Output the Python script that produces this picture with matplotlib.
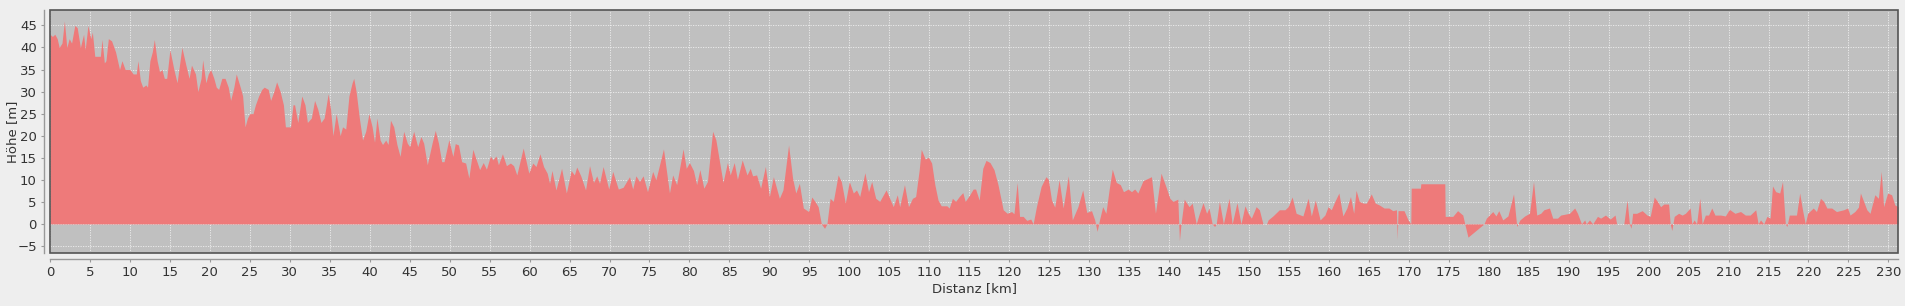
import numpy as np
import matplotlib
matplotlib.use("Agg")
import matplotlib.pyplot as plt
from matplotlib.patches import Rectangle

# Elevation profile, (distance km, height m)
# split in pieces so the lists stay readable

seg_0_44 = [
    (0, 43), (0.3, 42.5), (0.6, 43), (0.9, 42), (1.15, 40), (1.5, 41), (1.8, 46), (2.1, 40),
    (2.4, 42), (2.7, 41), (3.1, 45), (3.4, 44.5), (3.8, 40), (4.2, 43), (4.4, 39.5), (4.75, 45),
    (5.1, 42), (5.3, 43.5), (5.6, 38), (6.0, 38), (6.3, 38), (6.5, 41.8), (6.8, 36.5), (7.0, 37),
    (7.3, 42), (7.7, 41.5), (8.2, 39), (8.7, 35), (9.0, 37), (9.4, 35), (10.0, 35), (10.4, 34),
    (10.8, 34), (11.0, 37), (11.3, 32.5), (11.6, 31), (12.0, 31.5), (12.2, 31), (12.5, 37),
    (12.8, 39), (13.05, 41.8), (13.4, 37), (13.7, 34.5), (14.0, 35), (14.3, 33), (14.6, 33),
    (15.0, 39.5), (15.5, 35), (15.9, 32), (16.2, 36), (16.5, 40), (17.0, 36), (17.4, 33),
    (17.7, 36), (18.2, 34), (18.5, 30), (18.9, 33), (19.1, 37.2), (19.5, 32), (19.8, 34),
    (20.1, 35), (20.5, 33), (20.8, 31), (21.1, 30.5), (21.5, 33), (21.9, 33), (22.3, 31),
    (22.6, 28), (23.0, 31), (23.3, 34), (23.8, 31), (24.1, 29), (24.4, 22), (24.7, 24),
    (25.0, 25), (25.4, 25), (25.7, 27), (26.1, 29), (26.5, 30.5), (26.8, 31), (27.3, 30.5),
    (27.6, 28), (28.0, 30), (28.35, 32.2), (28.8, 30), (29.2, 27), (29.45, 22), (30.1, 22),
    (30.4, 27), (30.6, 27), (31.0, 23), (31.5, 29), (31.9, 27), (32.2, 23), (32.7, 24),
    (33.1, 28), (33.5, 26), (33.9, 23), (34.3, 24), (34.8, 29.5), (35.1, 26), (35.4, 20),
    (35.8, 25), (36.1, 22), (36.3, 20), (36.6, 22), (37.0, 21.5), (37.4, 29), (37.8, 32),
    (38.0, 33), (38.3, 30), (38.7, 24), (39.1, 19), (39.5, 21), (39.9, 25), (40.3, 22),
    (40.6, 18.5), (40.9, 24), (41.3, 19), (41.6, 18), (42.0, 19), (42.3, 18), (42.6, 23.5),
    (43.0, 22), (43.4, 18), (43.8, 15.3),
]

seg_44_94 = [
    (44.25, 21), (44.7, 18.3), (45.0, 17.5), (45.5, 21), (46.0, 17.5), (46.4, 19.8),
    (46.75, 18.3), (47.2, 13.4), (47.8, 18.3), (48.2, 21.2), (48.6, 18.3), (49.0, 14.1),
    (49.3, 14.1), (49.9, 19.1), (50.4, 15.3), (50.7, 18.2), (51.1, 17.9), (51.5, 14.1),
    (52.0, 13.8), (52.4, 10.4), (52.9, 16.9), (53.3, 14.7), (53.75, 12.3), (54.2, 13.9),
    (54.6, 12.4), (55.1, 15.4), (55.4, 14.5), (55.8, 15.4), (56.1, 13.4), (56.6, 15.9),
    (57.1, 13.2), (57.6, 13.8), (58.0, 13.2), (58.4, 11.1), (59.2, 17.2), (59.9, 11.5),
    (60.4, 13.8), (60.8, 13.0), (61.3, 15.9), (61.75, 13.0), (62.2, 11.5), (62.5, 9.2),
    (62.8, 12.1), (63.3, 7.7), (64.0, 12.6), (64.6, 7.0), (65.2, 12.1), (65.6, 11.1),
    (65.9, 12.9), (66.4, 10.9), (67.0, 7.7), (67.5, 13.2), (68.0, 9.4), (68.4, 10.9),
    (68.75, 9.2), (69.2, 13.0), (69.9, 7.9), (70.4, 11.9), (71.1, 7.9), (71.7, 8.3),
    (72.5, 10.7), (72.9, 7.9), (73.3, 10.9), (73.75, 9.6), (74.2, 10.9), (74.75, 7.3),
    (75.4, 11.9), (75.8, 10.0), (76.75, 17.0), (77.5, 7.0), (77.9, 11.1), (78.4, 8.9),
    (79.2, 17.0), (79.6, 12.6), (80.0, 13.9), (80.5, 12.1), (80.9, 8.9), (81.3, 12.3),
    (81.8, 8.1), (82.25, 9.6), (82.9, 21.0), (83.3, 19.1), (84.2, 9.4), (84.75, 13.9),
    (85.1, 11.1), (85.6, 13.9), (86.0, 10.1), (86.6, 14.5), (87.2, 11.1), (87.6, 12.6),
    (87.9, 10.9), (88.4, 11.1), (88.9, 8.1), (89.5, 13.0), (90.0, 6.2), (90.5, 10.7),
    (91.25, 5.8), (91.7, 7.7), (92.4, 17.9), (92.9, 10.4), (93.3, 7.0),
]

seg_94_144 = [
    (93.75, 9.2), (94.25, 3.6), (94.9, 2.8), (95.3, 6.1), (95.7, 5.1), (96.1, 3.9), (96.5, 0),
    (96.9, -1.0), (97.2, 0), (97.6, 5.8), (98.0, 5.1), (98.6, 11.1), (99.0, 9.6), (99.5, 4.7),
    (100.0, 9.6), (100.5, 7.0), (100.9, 7.7), (101.3, 6.2), (101.95, 11.6), (102.4, 7.3),
    (102.8, 9.6), (103.3, 5.8), (103.8, 5.1), (104.6, 7.7), (105.1, 5.6), (105.5, 3.9),
    (106.0, 6.6), (106.3, 3.9), (106.9, 8.9), (107.4, 3.9), (107.9, 5.8), (108.3, 6.2),
    (108.75, 12.3), (109.0, 16.9), (109.5, 14.7), (109.9, 15.1), (110.3, 13.8), (110.7, 8.9),
    (111.1, 5.4), (111.5, 4.1), (112.2, 4.1), (112.5, 3.6), (112.9, 5.8), (113.3, 5.1),
    (113.75, 6.2), (114.2, 7.1), (114.5, 5.1), (115.0, 6.4), (115.5, 7.9), (115.8, 7.9),
    (116.25, 5.4), (116.7, 12.6), (117.1, 14.4), (117.6, 13.9), (118.1, 12.3), (118.6, 8.9),
    (119.25, 3.2), (119.75, 2.4), (120.3, 2.8), (120.6, 2.3), (121.0, 9.4), (121.3, 1.7),
    (121.75, 1.7), (122.2, 0.8), (122.7, 1.1), (123.0, 0), (123.4, 3.8), (124.0, 8.5),
    (124.6, 10.7), (124.9, 10.1), (125.3, 5.4), (125.7, 3.8), (126.25, 10.0), (126.75, 3.6),
    (127.4, 10.9), (127.9, 0.9), (128.6, 3.9), (129.2, 7.7), (129.7, 2.6), (130.3, 3.0),
    (130.7, 0.9), (131.0, -1.7), (131.3, 0.9), (131.7, 3.9), (132.1, 2.4), (132.5, 7.7),
    (132.9, 12.4), (133.4, 9.4), (133.9, 8.9), (134.3, 7.3), (134.9, 7.9), (135.3, 7.3),
    (135.7, 7.9), (136.1, 7.0), (136.75, 9.8), (137.8, 10.7), (138.3, 2.4), (139.0, 11.5),
    (139.6, 8.5), (140.1, 5.8), (140.5, 5.1), (141.1, 5.6), (141.3, -3.8), (141.5, 0),
    (141.9, 5.6), (142.5, 3.9), (142.9, 4.7), (143.4, 0), (143.8, 2.4),
]

seg_144_194 = [
    (144.25, 4.8), (144.7, 2.4), (145.0, 3.6), (145.4, 0), (145.7, -0.6), (145.9, 0),
    (146.3, 5.1), (146.8, 0), (147.5, 5.8), (147.9, 0), (148.5, 4.8), (149.0, 0), (149.5, 4.1),
    (149.9, 2.4), (150.3, 1.3), (150.9, 3.9), (151.3, 3.2), (151.75, 0), (152.2, 0),
    (152.4, 0.9), (153.0, 1.8), (153.8, 3.2), (154.5, 3.2), (154.9, 3.9), (155.4, 6.1),
    (155.9, 2.4), (156.75, 1.8), (157.4, 5.8), (157.8, 1.8), (158.3, 5.4), (158.9, 0.9),
    (159.5, 2.0), (159.9, 3.9), (160.3, 3.2), (160.75, 5.1), (161.25, 7.0), (161.75, 1.8),
    (162.25, 3.6), (162.7, 6.2), (163.1, 2.4), (163.4, 7.6), (163.8, 5.1), (164.3, 4.7),
    (164.7, 4.7), (165.3, 6.8), (165.8, 4.7), (166.3, 4.3), (166.9, 3.6), (167.5, 3.6),
    (168.0, 3.0), (168.45, 3.2), (168.55, -3.5), (168.65, 3.0), (169.4, 3.0), (169.9, 0.9),
    (170.25, 0), (170.3, 8.1), (171.45, 8.1), (171.5, 9.1), (174.5, 9.1), (174.55, 1.7),
    (175.5, 1.7), (176.1, 3.0), (176.75, 2.0), (177.0, 0), (177.4, -3.0), (179.4, 0),
    (179.7, 1.3), (180.5, 2.8), (180.9, 1.8), (181.25, 3.0), (181.75, 0.9), (182.4, 1.8),
    (183.1, 6.8), (183.5, -0.6), (183.9, 0.9), (184.5, 1.8), (185.1, 2.4), (185.6, 9.6),
    (186.0, 2.0), (186.5, 2.4), (186.9, 3.2), (187.6, 3.6), (188.0, 1.3), (188.6, 1.3),
    (189.0, 2.0), (190.1, 2.4), (190.75, 3.6), (191.1, 2.4), (191.6, 0), (192.0, 0.9),
    (192.2, 0), (192.6, 0.9), (193.0, 0), (193.6, 1.7),
]

seg_194_231 = [
    (194.0, 1.3), (194.6, 2.0), (195.2, 1.1), (195.8, 2.0), (196.0, 0), (196.9, 0),
    (197.3, 5.4), (197.6, 0), (197.8, -1.0), (198.0, 2.4), (198.5, 2.4), (199.2, 3.0),
    (199.8, 2.0), (200.2, 1.7), (200.7, 6.1), (201.1, 5.1), (201.5, 3.9), (201.9, 4.5),
    (202.5, 4.5), (202.7, 0), (202.9, -1.5), (203.2, 1.7), (203.75, 2.4), (204.2, 2.0),
    (204.6, 2.4), (205.2, 3.6), (205.4, 0), (205.7, 0.9), (206.0, 0), (206.4, 5.8),
    (206.7, 0), (207.1, 2.0), (207.5, 2.0), (207.9, 3.6), (208.3, 2.0), (209.0, 2.0),
    (209.6, 1.8), (210.1, 3.3), (210.8, 2.4), (211.5, 2.8), (212.1, 2.0), (212.7, 2.0),
    (213.4, 3.2), (213.7, 0), (214.0, 0.9), (214.4, 0), (214.8, 1.7), (215.2, 1.3),
    (215.5, 8.6), (215.9, 7.3), (216.4, 7.0), (216.75, 9.6), (217.1, 0), (217.3, -0.6),
    (217.6, 2.0), (218.5, 2.0), (218.9, 7.0), (219.25, 3.2), (219.6, 0), (219.9, 2.4),
    (220.6, 3.6), (221.0, 2.8), (221.5, 5.8), (221.9, 5.1), (222.3, 3.6), (222.9, 3.6),
    (223.5, 2.8), (224.4, 3.2), (224.9, 3.6), (225.2, 2.0), (225.8, 2.8), (226.25, 3.8),
    (226.5, 7.0), (226.9, 5.1), (227.3, 3.2), (227.7, 2.4), (228.3, 6.6), (228.75, 5.8),
    (229.1, 11.9), (229.4, 3.9), (229.9, 7.0), (230.4, 6.6), (230.8, 4.3), (231.2, 3.9),
]

profile = seg_0_44 + seg_44_94 + seg_94_144 + seg_144_194 + seg_194_231
distanz = np.array([p[0] for p in profile])
hoehe = np.array([p[1] for p in profile])

x_ticks = np.arange(0, 231, 5)
y_ticks = np.arange(-5, 46, 5)

# Figure

W, H = 1905, 306
fig = plt.figure(figsize=(W / 100, H / 100), dpi=100)
fig.patch.set_facecolor("#eeeeee")

left, right, top, bottom = 50, 1898, 10, 253
ax = fig.add_axes([left / W, 1 - bottom / H, (right - left) / W, (bottom - top) / H])
ax.set_facecolor("#c0c0c0")

ax.fill_between(distanz, hoehe, 0, color="#ee7a7a", linewidth=0, zorder=2)

ax.set_xlim(0, 231.2)
ax.set_ylim(-6.6, 48.5)
ax.set_xticks(x_ticks)
ax.set_yticks(y_ticks)

ax.grid(True, color="white", linestyle=(0, (1.5, 1.5)), linewidth=0.6, alpha=0.75, zorder=1)
ax.set_axisbelow(True)

# offset axis lines like the original
for side in ["top", "right"]:
    ax.spines[side].set_visible(False)
for side in ["bottom", "left"]:
    ax.spines[side].set_position(("outward", 4))
    ax.spines[side].set_color("#999999")
    ax.spines[side].set_linewidth(1)

ax.add_patch(Rectangle((0, 0), 1, 1, transform=ax.transAxes, fill=False,
                       edgecolor="#555555", linewidth=1.2, zorder=5, clip_on=False))

ax.tick_params(axis="both", colors="#999999", labelcolor="#333333", labelsize=9.5, length=2)
ax.set_xlabel("Distanz [km]", fontsize=9.5, color="#333333", labelpad=2)
ax.set_ylabel("Höhe [m]", fontsize=9.5, color="#333333")
ax.yaxis.set_label_coords((19 - left) / (right - left), 0.5)

plt.savefig("out.png", dpi=100, facecolor=fig.get_facecolor())
